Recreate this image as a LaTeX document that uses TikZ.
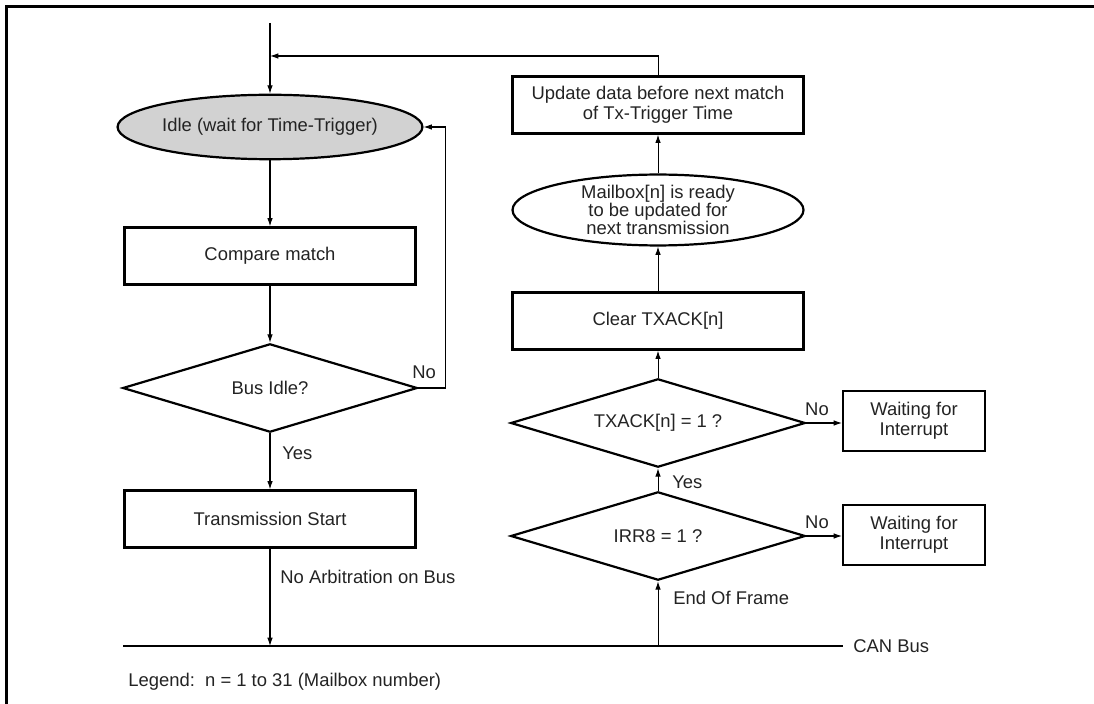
\documentclass[tikz,border=0pt]{standalone}
\usepackage{fontspec}
\setmainfont{Liberation Sans}
\usepackage{tikz}
\usetikzlibrary{shapes.geometric}
\usetikzlibrary{arrows.meta}
\usepackage{xcolor}
\definecolor{ColInk}{RGB}{35,35,35}
\definecolor{ColIdle}{RGB}{210,210,210}
\tikzstyle{TextFont}=[font=\fontsize{10}{11}\selectfont,text=ColInk]
\tikzstyle{BoxStep}=[rectangle,draw,line width=1.2pt,inner sep=1pt,align=center,TextFont]
\tikzstyle{WideBox}=[BoxStep,minimum width=158pt,minimum height=31pt]
\tikzstyle{WaitBox}=[BoxStep,minimum width=77pt,minimum height=33pt]
\tikzstyle{StateNode}=[ellipse,draw,line width=1.2pt,inner sep=0pt,align=center,
minimum width=158pt,TextFont]
\tikzstyle{TestNode}=[diamond,draw,line width=1.2pt,inner sep=0pt,shape aspect=3.3,
minimum width=160pt,minimum height=48pt,TextFont]
\tikzstyle{FlowArrow}=[-{Latex[length=4.5pt,width=3pt]},line width=0.55pt]
\tikzstyle{PlainLine}=[line width=0.55pt]
\tikzstyle{BusLine}=[line width=1.1pt]
\tikzstyle{FrameLine}=[line width=1.4pt]
\tikzstyle{Note}=[TextFont,inner sep=0pt]

\begin{document}
\begin{tikzpicture}[x=0.543pt,y=-0.543pt]
        \useasboundingbox(0,0)rectangle(1094,704);
        \draw[FrameLine](6.5,704)--(6.5,6.5)--(1094,6.5);
        % transmit side
        \node[StateNode,fill=ColIdle,minimum height=35pt](idle)at(270,127){Idle (wait for Time-Trigger)};
        \node[WideBox](cmp)at(270,256){Compare match};
        \node[TestNode](busidle)at(270,388){Bus Idle?};
        \node[WideBox](tstart)at(270,519){Transmission Start};
        % acknowledge side
        \node[WideBox](update)at(658,105){Update data before next match\\of Tx-Trigger Time};
        \node[StateNode,minimum height=38.5pt,inner ysep=-2pt,font=\fontsize{10}{10}\selectfont](ready)at(658,210){Mailbox[n] is ready\\to be updated for\\next transmission};
        \node[WideBox](clear)at(658,321){Clear TXACK[n]};
        \node[TestNode](txack)at(658,423){TXACK[n] = 1 ?};
        \node[TestNode](irr)at(658,536){IRR8 = 1 ?};
        \node[WaitBox](waitA)at(914,421){Waiting for\\Interrupt};
        \node[WaitBox](waitB)at(914,535){Waiting for\\Interrupt};
        % bus and free ends
        \coordinate(entry)at(270,23);
        \coordinate(ret)at(270,56);
        \coordinate(busL)at(123,646);
        \coordinate(busR)at(843,646);
        \draw[BusLine](busL)--(busR);
        \node[Note,anchor=west](canbus)at(853,646){CAN Bus};
        % flow
        \draw[FlowArrow](entry)--(idle.north);
        \draw[FlowArrow](update.north)--(update.north|-ret)--(ret);
        \draw[FlowArrow](idle.south)--(cmp.north);
        \draw[FlowArrow](cmp.south)--(busidle.north);
        \draw[FlowArrow](busidle.east)--++(27,0)|-(idle.east);
        \draw[FlowArrow](busidle.south)--(tstart.north);
        \draw[FlowArrow](tstart.south)--(tstart.south|-busL);
        \draw[FlowArrow](irr.south|-busL)--(irr.south);
        \draw[FlowArrow](irr.north)--(txack.south);
        \draw[FlowArrow](txack.north)--(clear.south);
        \draw[FlowArrow](clear.north)--(ready.south);
        \draw[FlowArrow](ready.north)--(update.south);
        \draw[FlowArrow](txack.east)--(waitA.west|-txack.east);
        \draw[FlowArrow](irr.east)--(waitB.west|-irr.east);
        % labels
        \node[Note,anchor=west](noA)at(412,372){No};
        \node[Note,anchor=west](yesA)at(282,453){Yes};
        \node[Note,anchor=west](noarb)at(280,577){No Arbitration on Bus};
        \node[Note](noB)at(817,409){No};
        \node[Note](noC)at(817,522){No};
        \node[Note,anchor=west](yesB)at(672,482){Yes};
        \node[Note,anchor=west](eof)at(673,598){End Of Frame};
        \node[Note,anchor=west](legend)at(128,682){Legend:\ \ n = 1 to 31 (Mailbox number)};
    \end{tikzpicture}
\end{document}
